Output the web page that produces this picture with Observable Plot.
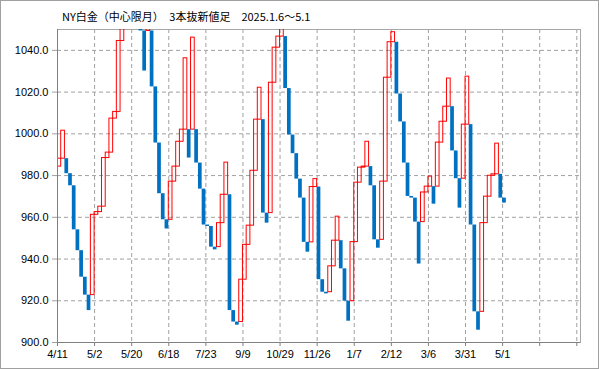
<!DOCTYPE html>
<html><head><meta charset="utf-8">
<script src="https://cdn.jsdelivr.net/npm/d3@7"></script>
<script src="https://cdn.jsdelivr.net/npm/@observablehq/plot@0.6"></script>
<style>
html,body{margin:0;padding:0;background:#fff;}
#wrap{position:relative;width:599px;height:369px;overflow:hidden;background:#fff;}
#border{position:absolute;left:0;top:0;width:599px;height:369px;box-sizing:border-box;border:1px solid #a0a0a0;pointer-events:none;}
#title{position:absolute;left:62px;top:8px;font-family:"Noto Sans CJK JP";font-size:11px;line-height:16px;color:#000;white-space:pre;z-index:2;}
#wrap svg{position:absolute;left:0;top:0;}
</style></head><body>
<div id="wrap"><div id="title"></div><div id="border"></div></div>
<script>
const title = "NY白金（中心限月）　3本抜新値足　2025.1.6～5.1";
const tickIndex = [0, 10, 20, 30, 40, 50, 60, 70, 80, 90, 100, 110, 120];
const tickLabels = ["4/11", "5/2", "5/20", "6/18", "7/23", "9/9", "10/29", "11/26", "1/7", "2/12", "3/6", "3/31", "5/1"];
const gridIndex = [0, 10, 20, 30, 40, 50, 60, 70, 80, 90, 100, 110, 120, 130, 140];
const yTicks = [900, 920, 940, 960, 980, 1000, 1020, 1040];
const xDomain = [0, 141];
const yDomain = [900, 1050];

const opens = [
  984.3, 988.1, 988.1, 980.9, 975.1, 954.0, 944.0, 931.3, 922.7, 922.7,
  961.2, 962.5, 965.1, 988.4, 991.0, 1007.3, 1010.5, 1044.5, 1052, 1060,
  1072, 1082, 1082, 1049.3, 1049.3, 1049.3, 1022.5, 995.6, 971.3, 958.8,
  958.8, 977.1, 984.3, 996.2, 1002.0, 1002.0, 1002.0, 1002.0, 986.0, 973.5,
  956.3, 955.6, 945.7, 945.7, 957.2, 970.8, 970.8, 915.3, 909.8, 909.8,
  930.1, 946.8, 956.0, 982.3, 1006.8, 1006.8, 962.0, 962.0, 1024.5, 1041.3,
  1046.6, 1046.6, 1021.7, 999.4, 990.5, 978.3, 969.2, 948.0, 948.0, 974.5,
  974.5, 930.1, 924.1, 924.1, 936.5, 948.8, 948.8, 935.3, 919.8, 919.8,
  948.1, 976.6, 983.8, 984.3, 984.3, 975.1, 949.2, 949.2, 977.1, 1026.9,
  1043.9, 1043.9, 1019.1, 1005.7, 986.0, 970.0, 969.2, 957.7, 957.7, 971.9,
  974.7, 974.7, 974.7, 995.8, 1005.8, 1013.0, 1013.0, 991.8, 978.5, 978.5,
  1004.4, 1004.4, 956.3, 914.7, 914.7, 957.2, 969.9, 979.9, 980.6, 980.6,
  969.2
];
const closes = [
  988.1, 1001.5, 980.9, 975.1, 954.0, 944.0, 931.3, 922.7, 915.3, 961.2,
  962.5, 965.1, 988.4, 991.0, 1007.3, 1010.5, 1044.5, 1052, 1060, 1072,
  1082, 1093, 1049.3, 1030.1, 1055, 1022.5, 995.6, 971.3, 958.8, 954.4,
  977.1, 984.3, 996.2, 1002.0, 1036.2, 988.4, 1046.1, 986.0, 973.5, 956.3,
  955.6, 945.7, 944.4, 957.2, 970.8, 986.2, 915.3, 909.8, 908.3, 930.1,
  946.8, 956.0, 982.3, 1006.8, 1022.1, 962.0, 957.2, 1024.5, 1041.3, 1046.6,
  1053, 1021.7, 999.4, 990.5, 978.3, 969.2, 948.0, 943.3, 974.5, 978.3,
  930.1, 924.1, 923.3, 936.5, 948.8, 960.3, 935.3, 919.8, 910.2, 948.1,
  976.6, 983.8, 984.3, 996.2, 975.1, 949.2, 945.2, 977.1, 1026.9, 1043.9,
  1048.7, 1019.1, 1005.7, 986.0, 970.0, 969.2, 957.7, 937.6, 971.9, 974.7,
  979.5, 966.3, 995.8, 1005.8, 1013.0, 1026.5, 991.8, 978.5, 964.4, 1004.4,
  1027.4, 956.3, 914.7, 905.9, 957.2, 969.9, 979.9, 980.6, 995.3, 969.2,
  966.8
];

const bricks = closes.map((c, i) => ({i, open: opens[i], close: c, up: c > opens[i]}));
const upBricks = bricks.filter(d => d.up);
const downBricks = bricks.filter(d => !d.up);

document.getElementById("title").textContent = title;

const chart = Plot.plot({
  width: 599,
  height: 369,
  marginLeft: 57,
  marginRight: 19,
  marginTop: 29,
  marginBottom: 27,
  style: {fontFamily: "Liberation Sans", fontSize: "11px", color: "#000", background: "transparent", overflow: "visible"},
  x: {type: "linear", domain: xDomain, label: null},
  y: {type: "linear", domain: yDomain, label: null},
  marks: [
    Plot.gridY(yTicks, {stroke: "#a0a0a0", strokeOpacity: 1, strokeDasharray: "4,3"}),
    Plot.gridX(gridIndex, {stroke: "#a0a0a0", strokeOpacity: 1, strokeDasharray: "4,3"}),
    Plot.frame({stroke: "#a6a6a6"}),
    Plot.rect(upBricks, {x1: "i", x2: d => d.i + 1, y1: "open", y2: "close", fill: "none", stroke: "#ff0000", strokeWidth: 1, clip: true}),
    Plot.rect(downBricks, {x1: "i", x2: d => d.i + 1, y1: "open", y2: "close", fill: "#0070c0", clip: true}),
    Plot.ruleX([xDomain[0]], {stroke: "#808080"}),
    Plot.ruleY([yDomain[0]], {stroke: "#808080"}),
    Plot.axisY(yTicks, {tickFormat: d3.format(".1f"), tickSize: 5, tickPadding: 4, stroke: "#a0a0a0", fill: "#000", fontSize: 11, label: null}),
    Plot.axisX(tickIndex, {tickFormat: d => tickLabels[tickIndex.indexOf(d)], tickSize: 4, tickPadding: 4, stroke: "#808080", fill: "#000", fontSize: 11, label: null}),
    Plot.axisX(gridIndex.filter(d => !tickIndex.includes(d)), {tickFormat: () => "", tickSize: 4, stroke: "#808080", label: null})
  ]
});
document.getElementById("wrap").appendChild(chart);
</script>
</body></html>
